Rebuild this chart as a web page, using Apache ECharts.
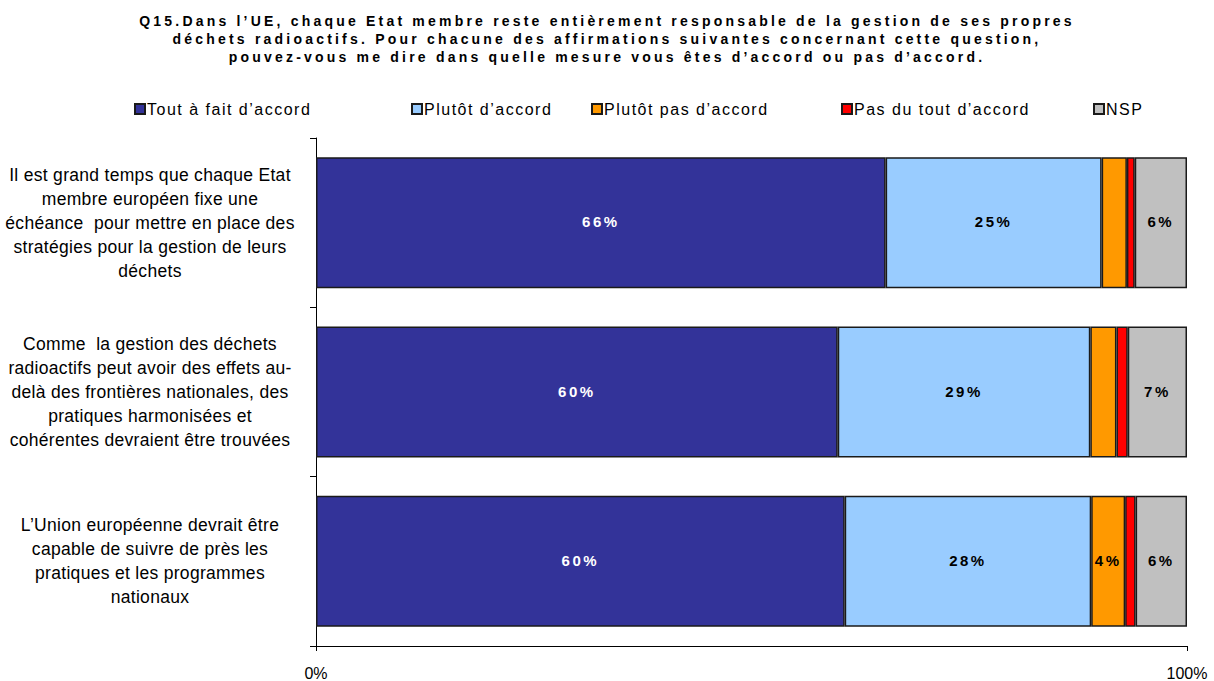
<!DOCTYPE html>
<html>
<head>
<meta charset="utf-8">
<script src="https://cdn.jsdelivr.net/npm/echarts@6/dist/echarts.min.js"></script>
<style>html,body{margin:0;padding:0;background:#fff}#c{width:1214px;height:681px}</style>
</head>
<body>
<div id="c"></div>
<script>
var categories = [
  "Il est grand temps que chaque Etat\nmembre européen fixe une\néchéance  pour mettre en place des\nstratégies pour la gestion de leurs\ndéchets",
  "Comme  la gestion des déchets\nradioactifs peut avoir des effets au-\ndelà des frontières nationales, des\npratiques harmonisées et\ncohérentes devraient être trouvées",
  "L’Union européenne devrait être\ncapable de suivre de près les\npratiques et les programmes\nnationaux"
];
var seriesNames = ["Tout à fait d’accord", "Plutôt d’accord", "Plutôt pas d’accord", "Pas du tout d’accord", "NSP"];
var toutAFait = [65.4, 59.9, 60.7];
var plutot = [24.8, 29.0, 28.3];
var plutotPas = [2.9, 3.0, 3.9];
var pasDuTout = [0.9, 1.3, 1.2];
var nsp = [6.0, 6.8, 5.9];
var labelsToutAFait = ["66%", "60%", "60%"];
var labelsPlutot = ["25%", "29%", "28%"];
var labelsPlutotPas = ["", "", "4%"];
var labelsPasDuTout = ["", "", ""];
var labelsNsp = ["6%", "7%", "6%"];
var xTicks = ["0%", "100%"];
var titleText = "Q15.Dans l’UE, chaque Etat membre reste entièrement responsable de la gestion de ses propres\ndéchets radioactifs. Pour chacune des affirmations suivantes concernant cette question,\npouvez-vous me dire dans quelle mesure vous êtes d’accord ou pas d’accord.";

var values = [toutAFait, plutot, plutotPas, pasDuTout, nsp];
var labels = [labelsToutAFait, labelsPlutot, labelsPlutotPas, labelsPasDuTout, labelsNsp];
var colors = ["#333399", "#99CCFF", "#FF9900", "#FF0000", "#C0C0C0"];
var labelColors = ["#ffffff", "#000000", "#000000", "#000000", "#000000"];
var legendLeft = [129, 406, 586, 836, 1088];

var font = "'Liberation Sans', Arial, sans-serif";
var chart = echarts.init(document.getElementById('c'), null, { renderer: 'svg' });

var series = seriesNames.map(function (name, i) {
  return {
    name: name,
    type: 'bar',
    stack: 'total',
    barWidth: 131,
    data: values[i],
    itemStyle: { color: colors[i], borderColor: '#1a1a1a', borderWidth: 1.5 },
    label: {
      show: true,
      position: 'inside',
      offset: [0, -1],
      color: labelColors[i],
      fontFamily: font,
      fontWeight: 'bold',
      fontSize: 15,
      formatter: function (p) { return labels[i][p.dataIndex]; }
    },
    emphasis: { disabled: true }
  };
});

var legends = seriesNames.map(function (name, i) {
  return {
    data: [name],
    left: legendLeft[i],
    top: 96,
    icon: 'rect',
    itemWidth: 10,
    itemHeight: 10,
    textStyle: { fontFamily: font, fontSize: 16, color: '#000', padding: [0, 0, 0, -3] },
    selectedMode: false
  };
});

chart.setOption({
  animation: false,
  title: {
    text: titleText,
    left: 'center',
    top: 7,
    textStyle: { fontFamily: font, fontSize: 14, fontWeight: 'bold', color: '#000', lineHeight: 18, align: 'center' }
  },
  legend: legends,
  grid: { left: 316, right: 27, top: 138, bottom: 33, containLabel: false },
  xAxis: {
    type: 'value',
    min: 0,
    max: 100,
    interval: 100,
    axisLine: { show: true, lineStyle: { color: '#000', width: 1 } },
    axisTick: { show: true, length: 5, lineStyle: { color: '#000' } },
    splitLine: { show: false },
    axisLabel: {
      fontFamily: font, fontSize: 16, color: '#000', margin: 19,
      formatter: function (v) { return v === 0 ? xTicks[0] : xTicks[1]; }
    }
  },
  yAxis: {
    type: 'category',
    inverse: true,
    data: categories,
    axisLine: { show: true, lineStyle: { color: '#000', width: 1 } },
    axisTick: { show: true, length: 6, lineStyle: { color: '#000' } },
    axisLabel: {
      fontFamily: font, fontSize: 17.5, color: '#000', lineHeight: 24,
      align: 'center', margin: 166
    }
  },
  series: series
});

function spaceText() {
  var texts = document.querySelectorAll('#c text');
  texts.forEach(function (t) {
    var cs = getComputedStyle(t);
    var fs = parseFloat(cs.fontSize);
    var bold = cs.fontWeight === 'bold' || parseInt(cs.fontWeight, 10) >= 600;
    var ls = 0;
    if (bold && fs === 14) ls = 3.2;
    else if (bold && fs === 15) ls = 2.5;
    else if (fs === 16 && !bold) ls = 1.5;
    else if (fs === 17.5) ls = 0.3;
    if (t.textContent === '0%' || t.textContent === '100%') ls = 0;
    t.setAttribute('letter-spacing', ls + 'px');
  });
}
chart.on('finished', spaceText);
setTimeout(spaceText, 50);
</script>
</body>
</html>
